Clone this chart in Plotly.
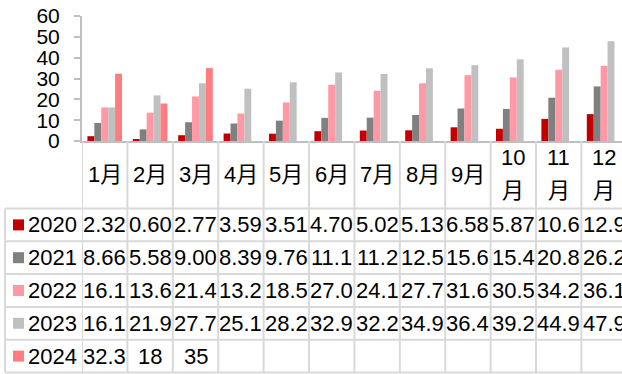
import plotly.graph_objects as go

# Monthly values per year (shown as bars and in the data table below)
month_labels = ["1月", "2月", "3月", "4月", "5月", "6月", "7月", "8月", "9月", "10月", "11月", "12月"]
years = ["2020", "2021", "2022", "2023", "2024"]
v2020 = [2.32, 0.60, 2.77, 3.59, 3.51, 4.70, 5.02, 5.13, 6.58, 5.87, 10.6, 12.9]
v2021 = [8.66, 5.58, 9.00, 8.39, 9.76, 11.1, 11.2, 12.5, 15.6, 15.4, 20.8, 26.2]
v2022 = [16.1, 13.6, 21.4, 13.2, 18.5, 27.0, 24.1, 27.7, 31.6, 30.5, 34.2, 36.1]
v2023 = [16.1, 21.9, 27.7, 25.1, 28.2, 32.9, 32.2, 34.9, 36.4, 39.2, 44.9, 47.9]
v2024 = [32.3, 18, 35]
y_ticks = [0, 10, 20, 30, 40, 50, 60]

series = [v2020, v2021, v2022, v2023, v2024]
colors = ["#C00000", "#808080", "#FF99A6", "#C0C0C0", "#FF7C80"]
fixed_decimals = [True, True, True, True, False]

FONT = "Liberation Sans, Arial, Noto Sans CJK SC, sans-serif"
W, H = 622, 374
PL, PR, PT, PB = 82, 622, 16, 141      # plot area in pixels
COL_W = 45.4                           # table column width in pixels
HEADER_BOTTOM = 208.5
ROW_H = 32.8
LEFT_EDGE = 5
GRID = "#d9d9d9"
AXIS = "#bfbfbf"


def py(p):
    return (PB - p) / (PB - PT)


def px(p):
    return (p - PL) / (PR - PL)


def fmt(v, fixed):
    if not fixed:
        return f"{v:g}"
    return f"{v:.2f}" if v < 10 else f"{v:.1f}"


fig = go.Figure()
for name, vals, col in zip(years, series, colors):
    fig.add_trace(go.Bar(
        x=list(range(len(vals))), y=vals, name=name,
        marker=dict(color=col, line=dict(width=0)),
    ))

n = len(month_labels)
shapes = []
annotations = []

# horizontal table lines
row_bottoms = [HEADER_BOTTOM + ROW_H * k for k in range(len(years) + 1)]
for yb in row_bottoms:
    shapes.append(dict(type="line", xref="paper", yref="paper",
                       x0=px(LEFT_EDGE), x1=1, y0=py(yb), y1=py(yb),
                       line=dict(color=GRID, width=2)))
# vertical table lines at column boundaries
for i in range(n):
    shapes.append(dict(type="line", xref="x", yref="paper",
                       x0=i - 0.5, x1=i - 0.5, y0=py(PB), y1=py(row_bottoms[-1]),
                       line=dict(color=GRID, width=2)))
shapes.append(dict(type="line", xref="paper", yref="paper",
                   x0=px(LEFT_EDGE), x1=px(LEFT_EDGE),
                   y0=py(HEADER_BOTTOM), y1=py(row_bottoms[-1]),
                   line=dict(color=GRID, width=2)))

tfont = dict(family=FONT, size=22, color="#000000")

# month header row
hc = (PB + HEADER_BOTTOM) / 2
for i, lab in enumerate(month_labels):
    if len(lab) > 2:
        annotations.append(dict(x=i, xref="x", y=py(hc - 17), yref="paper",
                                text=lab[:-1], showarrow=False, font=tfont,
                                xanchor="center", yanchor="middle"))
        annotations.append(dict(x=i, xref="x", y=py(hc + 16), yref="paper",
                                text=lab[-1], showarrow=False, font=tfont,
                                xanchor="center", yanchor="middle"))
    else:
        annotations.append(dict(x=i, xref="x", y=py(hc), yref="paper",
                                text=lab, showarrow=False, font=tfont,
                                xanchor="center", yanchor="middle"))

# data rows with legend keys
for r, (name, vals, col, fx) in enumerate(zip(years, series, colors, fixed_decimals)):
    yc = HEADER_BOTTOM + ROW_H * (r + 0.5)
    shapes.append(dict(type="rect", xref="paper", yref="paper",
                       x0=px(13), x1=px(24), y0=py(yc - 5.5), y1=py(yc + 5.5),
                       fillcolor=col, line=dict(width=0)))
    annotations.append(dict(x=px(26), xref="paper", y=py(yc), yref="paper",
                            text=name, showarrow=False, font=tfont,
                            xanchor="left", yanchor="middle"))
    for i, v in enumerate(vals):
        annotations.append(dict(x=i, xref="x", y=py(yc), yref="paper",
                                text=fmt(v, fx), showarrow=False, font=tfont,
                                xanchor="center", yanchor="middle"))

fig.update_layout(
    width=W, height=H,
    margin=dict(l=PL, r=W - PR, t=PT, b=H - PB, pad=0),
    paper_bgcolor="white", plot_bgcolor="white",
    barmode="group", bargap=1 - 34.6 / COL_W, bargroupgap=0,
    showlegend=False,
    shapes=shapes, annotations=annotations,
    xaxis=dict(range=[-0.5, -0.5 + (PR - PL) / COL_W], showticklabels=False,
               showgrid=False, zeroline=False, showline=True,
               linecolor=AXIS, linewidth=2, ticks=""),
    yaxis=dict(range=[0, 60], tickvals=y_ticks, showgrid=False, zeroline=False,
               showline=True, linecolor=AXIS, linewidth=2,
               ticks="outside", ticklen=6, tickcolor=AXIS, tickwidth=2,
               ticklabelstandoff=10,
               tickfont=dict(family=FONT, size=21, color="#000000")),
)

fig.write_html("out.html")
